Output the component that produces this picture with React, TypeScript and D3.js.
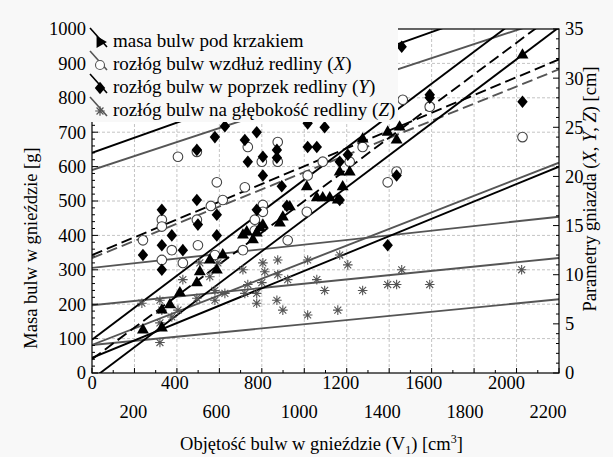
import React from 'react';
import * as d3 from 'd3';

// ---------- axes ----------
const xDomain = [0, 2200];
const gDomain = [0, 1000];
const cmDomain = [0, 35];
const xTicksRow1 = [0, 400, 800, 1200, 1600, 2000];
const xTicksRow2 = [200, 600, 1000, 1400, 1800, 2200];
const gTicks = [0, 100, 200, 300, 400, 500, 600, 700, 800, 900, 1000];
const cmTicks = [0, 5, 10, 15, 20, 25, 30, 35];

// ---------- data: masa bulw pod krzakiem [g] ----------
const masaV = [240, 329, 329, 367, 414, 494, 508, 555, 588, 616, 711, 729, 758, 776, 791, 805, 885, 899, 932, 1012, 1059, 1087, 1120, 1158, 1167, 1181, 1214, 1275, 1393, 1435, 1449, 2028];
const masaG = [125, 131, 183, 198, 233, 262, 294, 328, 299, 343, 401, 410, 387, 407, 422, 430, 436, 453, 483, 541, 509, 509, 509, 503, 584, 541, 584, 680, 700, 677, 715, 924];

// ---------- rozłóg wzdłuż redliny (X) [cm] ----------
const xV = [240, 329, 329, 405, 494, 499, 588, 560, 616, 494, 720, 734, 800, 875, 875, 805, 805, 767, 767, 922, 1016, 1012, 1087, 1464, 1591, 1275, 2028, 1214, 1393, 1435, 376, 329, 428, 579, 711];
const xCm = [13.5, 15.6, 14.9, 22.0, 22.5, 13.0, 19.4, 17.0, 17.6, 15.6, 18.9, 23.0, 21.5, 23.5, 21.5, 17.1, 16.4, 15.6, 14.5, 13.5, 20.1, 16.4, 21.5, 27.8, 27.1, 23.0, 24.0, 21.5, 19.4, 20.5, 12.5, 11.5, 11.2, 12.0, 12.5];

// ---------- rozłóg w poprzek redliny (Y) [cm] ----------
const yV = [329, 376, 329, 494, 494, 499, 588, 588, 579, 626, 720, 734, 776, 805, 805, 871, 871, 894, 918, 776, 1016, 1096, 1016, 1059, 1459, 1591, 1591, 2028, 1167, 1205, 1167, 1435, 1393, 240, 428, 329];
const yCm = [16.6, 14.0, 13.0, 22.7, 17.6, 15.1, 16.1, 14.0, 24.0, 25.1, 23.7, 21.5, 24.5, 22.0, 20.1, 22.7, 21.9, 19.0, 17.0, 16.6, 25.4, 25.0, 23.0, 23.0, 33.2, 28.3, 28.0, 27.6, 21.5, 22.2, 17.6, 20.1, 13.0, 12.0, 12.5, 10.5];

// ---------- rozłóg na głębokość redliny (Z) [cm] ----------
const zV = [235, 320, 329, 320, 320, 376, 405, 428, 494, 508, 555, 579, 579, 593, 626, 711, 720, 734, 776, 776, 800, 805, 814, 875, 875, 871, 899, 922, 1016, 1059, 1016, 1096, 1158, 1167, 1205, 1275, 1393, 1435, 1459, 1591, 2024];
const zCm = [7.1, 7.4, 6.4, 5.1, 3.1, 5.7, 6.4, 9.5, 7.6, 11.2, 9.8, 8.4, 7.4, 11.2, 8.1, 10.5, 8.1, 9.0, 8.1, 7.1, 9.2, 11.2, 10.3, 11.5, 10.0, 7.4, 6.4, 9.5, 11.5, 9.5, 5.9, 8.4, 6.4, 12.0, 11.0, 8.4, 9.0, 9.0, 10.5, 9.0, 10.5];

// ---------- fitted lines (value at V=0 and V=2200) ----------
const fitV = [0, 2200];
const masaFit = [40, 1052];
const masaUpper = [97, 1120];
const masaLower = [-18, 1005];
const yFit = [12.0, 31.9];
const yUpper = [22.4, 39.3];
const yLower = [1.55, 21.0];
const xFit = [11.7, 30.9];
const xUpper = [20.65, 36.3];
const xLower = [2.85, 21.4];
const zFit = [6.9, 11.7];
const zUpper = [10.7, 15.9];
const zLower = [2.85, 7.5];

const legendLabels = [
  'masa bulw pod krzakiem',
  'rozłóg bulw wzdłuż redliny (',
  'rozłóg bulw w poprzek redliny (',
  'rozłóg bulw na głębokość redliny (',
];
const legendLetters = ['', 'X', 'Y', 'Z'];

const BLACK = '#000';
const GRAY = '#555';
const FONT = "'Liberation Serif', 'Times New Roman', serif";
const FS = 18.5;

export default function App() {
  const L = 92, R = 559, T = 29, B = 373;
  const x = d3.scaleLinear().domain(xDomain).range([L, R]);
  const yG = d3.scaleLinear().domain(gDomain).range([B, T]);
  const yC = d3.scaleLinear().domain(cmDomain).range([B, T]);
  const line = d3.line<[number, number]>();

  const fitPath = (vals: number[], ys: d3.ScaleLinear<number, number>) =>
    line(fitV.map((v, i) => [x(v), ys(vals[i])]) as [number, number][]) || '';

  const tri = d3.symbol().type(d3.symbolTriangle).size(62)() || '';
  const diamond = 'M0,-6.3L5.2,0L0,6.3L-5.2,0Z';
  const star = (s: number) => `M${-s},0L${s},0M0,${-s}L0,${s}M${-s * 0.72},${-s * 0.72}L${s * 0.72},${s * 0.72}M${-s * 0.72},${s * 0.72}L${s * 0.72},${-s * 0.72}`;

  const xGrid = d3.range(200, 2200, 200);
  const gGrid = d3.range(100, 1000, 100);
  const xMinor = d3.range(0, 2201, 100);
  const gMinor = d3.range(0, 1001, 20);
  const cmMinor = d3.range(0, 35.01, 1);

  const lines = [
    { vals: zLower, ys: yC, c: GRAY, dash: '' },
    { vals: zUpper, ys: yC, c: GRAY, dash: '' },
    { vals: zFit, ys: yC, c: GRAY, dash: '' },
    { vals: xLower, ys: yC, c: GRAY, dash: '' },
    { vals: xUpper, ys: yC, c: GRAY, dash: '' },
    { vals: xFit, ys: yC, c: GRAY, dash: '11,5' },
    { vals: yLower, ys: yC, c: BLACK, dash: '' },
    { vals: yUpper, ys: yC, c: BLACK, dash: '' },
    { vals: yFit, ys: yC, c: BLACK, dash: '11,5' },
    { vals: masaLower, ys: yG, c: BLACK, dash: '' },
    { vals: masaUpper, ys: yG, c: BLACK, dash: '' },
    { vals: masaFit, ys: yG, c: BLACK, dash: '11,5' },
  ];

  const legendY = [41, 64, 87, 110];

  const legendMarker = (i: number, cx: number, cy: number) => {
    if (i === 0) return <path d={tri} transform={`translate(${cx},${cy}) rotate(-30)`} fill={BLACK} />;
    if (i === 1) return <circle cx={cx} cy={cy} r={4.5} fill="#fff" stroke={GRAY} strokeWidth={1.1} />;
    if (i === 2) return <path d={diamond} transform={`translate(${cx},${cy})`} fill={BLACK} />;
    return <path d={star(4.8)} transform={`translate(${cx},${cy})`} stroke={GRAY} strokeWidth={1.2} fill="none" />;
  };

  return (
    <svg width={613} height={457} style={{ position: 'absolute', left: 0, top: 0, background: '#f8f8f8' }} fontFamily={FONT}>
      <defs>
        <clipPath id="plot">
          <rect x={L} y={T} width={R - L} height={B - T} />
        </clipPath>
      </defs>
      <rect x={L} y={T} width={R - L} height={B - T} fill="#fff" />
      {/* grid */}
      <g stroke="#c4c4c4" strokeWidth={1} strokeDasharray="3,2">
        {xGrid.map(v => <line key={'gx' + v} x1={x(v)} x2={x(v)} y1={T} y2={B} />)}
        {gGrid.map(v => <line key={'gy' + v} x1={L} x2={R} y1={yG(v)} y2={yG(v)} />)}
      </g>
      {/* fitted lines */}
      <g clipPath="url(#plot)" fill="none">
        {lines.map((l, i) => (
          <path key={'l' + i} d={fitPath(l.vals, l.ys)} stroke={l.c} strokeWidth={1.9} strokeDasharray={l.dash || undefined} />
        ))}
      </g>
      {/* points */}
      <g clipPath="url(#plot)">
        {zV.map((v, i) => (
          <path key={'z' + i} d={star(4.8)} transform={`translate(${x(v)},${yC(zCm[i])})`} stroke="#555" strokeWidth={1.1} fill="none" />
        ))}
        {xV.map((v, i) => (
          <circle key={'x' + i} cx={x(v)} cy={yC(xCm[i])} r={4.8} fill="#fff" stroke="#444" strokeWidth={1.1} />
        ))}
        {yV.map((v, i) => (
          <path key={'y' + i} d={diamond} transform={`translate(${x(v)},${yC(yCm[i])})`} fill={BLACK} />
        ))}
        {masaV.map((v, i) => (
          <path key={'m' + i} d={tri} transform={`translate(${x(v)},${yG(masaG[i])})`} fill={BLACK} />
        ))}
      </g>
      {/* frame */}
      <rect x={L} y={T} width={R - L} height={B - T} fill="none" stroke="#000" strokeWidth={1.2} />
      {/* ticks */}
      <g stroke="#000" strokeWidth={1}>
        {xMinor.map(v => <line key={'tx' + v} x1={x(v)} x2={x(v)} y1={B} y2={B - (v % 200 === 0 ? 5 : 3)} />)}
        {gMinor.map(v => <line key={'tg' + v} x1={L} x2={L + (v % 100 === 0 ? 6 : 3)} y1={yG(v)} y2={yG(v)} />)}
        {cmMinor.map(v => <line key={'tc' + v} x1={R} x2={R - (v % 5 === 0 ? 6 : 3)} y1={yC(v)} y2={yC(v)} />)}
      </g>
      {/* legend box */}
      <rect x={86} y={0} width={312} height={122} fill="#f8f8f8" />
      {legendLabels.map((t, i) => (
        <g key={'lg' + i}>
          <line x1={90} y1={legendY[i] - 13} x2={107} y2={legendY[i] + 6} stroke={i % 2 === 0 ? BLACK : GRAY} strokeWidth={1.6} />
          {legendMarker(i, 100, legendY[i] + 1)}
          <text x={113} y={legendY[i] + 6} fontSize={19} fill="#000">
            {t}
            {legendLetters[i] && <tspan fontStyle="italic">{legendLetters[i]}</tspan>}
            {legendLetters[i] && ')'}
          </text>
        </g>
      ))}
      {/* tick labels */}
      <g fontSize={FS} fill="#000">
        {gTicks.map(v => (
          <text key={'lg' + v} x={86} y={yG(v)} dy="0.35em" textAnchor="end">{v}</text>
        ))}
        {cmTicks.map(v => (
          <text key={'lc' + v} x={565} y={yC(v)} dy="0.35em" textAnchor="start">{v}</text>
        ))}
        {xTicksRow1.map(v => (
          <text key={'lx1' + v} x={x(v) - v * 0.005} y={389} textAnchor="middle">{v}</text>
        ))}
        {xTicksRow2.map(v => (
          <text key={'lx2' + v} x={x(v) - v * 0.005} y={418} textAnchor="middle">{v}</text>
        ))}
      </g>
      {/* axis titles */}
      <text x={(L + R) / 2 - 4} y={450} fontSize={FS} textAnchor="middle">
        Objętość bulw w gnieździe (V<tspan fontSize={12} dy={4}>1</tspan><tspan dy={-4}>) [cm</tspan><tspan fontSize={12} dy={-7}>3</tspan><tspan dy={7}>]</tspan>
      </text>
      <text transform={`translate(37,248) rotate(-90)`} fontSize={FS} textAnchor="middle">Masa bulw w gnieździe [g]</text>
      <text transform={`translate(596,189) rotate(-90)`} fontSize={FS} textAnchor="middle">
        Parametry gniazda (<tspan fontStyle="italic">X</tspan>, <tspan fontStyle="italic">Y</tspan>, <tspan fontStyle="italic">Z</tspan>) [cm]
      </text>
    </svg>
  );
}
